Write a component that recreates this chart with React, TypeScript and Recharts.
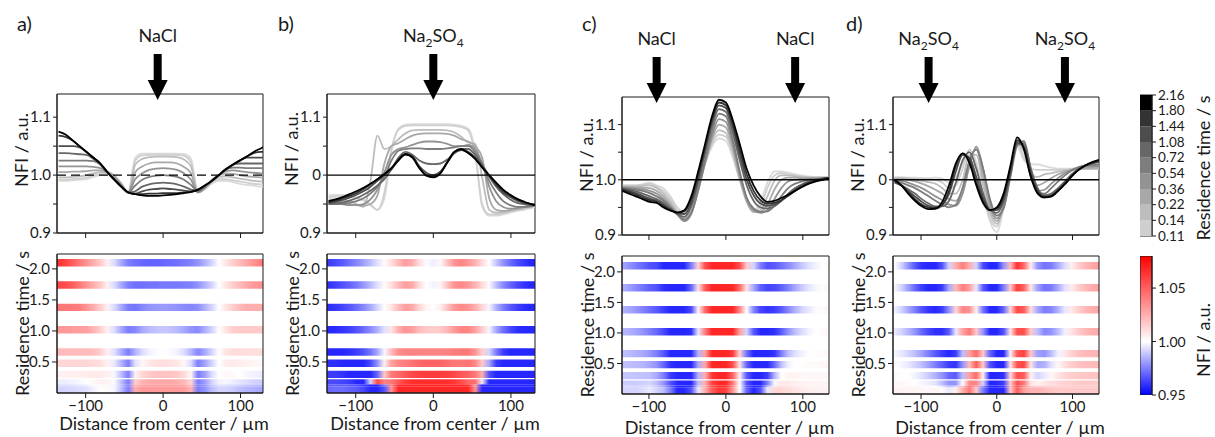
import React from "react";
import {
  LineChart,
  Line,
  XAxis,
  YAxis,
  ReferenceLine,
  ReferenceArea,
  ReferenceDot,
  ComposedChart,
  BarChart,
  Bar,
  Label,
} from "recharts";

// distance from channel center (µm), sampled every 9 µm
const DIST = [
  -135, -126, -117, -108, -99, -90, -81, -72, -63, -54, -45, -36, -27, -18, -9, 0,
  9, 18, 27, 36, 45, 54, 63, 72, 81, 90, 99, 108, 117, 126, 135,
];

// residence times (s), one profile per time in every panel
const TIMES = [0.11, 0.14, 0.22, 0.36, 0.54, 0.72, 1.08, 1.44, 1.8, 2.16];
const TIME_TICKS = ["0.11", "0.14", "0.22", "0.36", "0.54", "0.72", "1.08", "1.44", "1.80", "2.16"];
const GRAYS = ["#dadada", "#cfcfcf", "#bdbdbd", "#a8a8a8", "#939393", "#7d7d7d", "#676767", "#4d4d4d", "#333333", "#000000"];

const NFI_TICKS = [0.95, 1.0, 1.05];
const NFI_RANGE = [0.95, 1.08];
const NFI_STOPS = [1.08, 1.06, 1.04, 1.02, 1.0, 0.99, 0.975, 0.96, 0.95];

// a) NaCl at center
const PROFILE_A = [
  [0.99, 0.99, 0.991, 0.992, 0.993, 0.997, 1.0, 1.002, 0.998, 0.985, 0.97, 1.03, 1.037, 1.037, 1.037, 1.037, 1.037, 1.037, 1.036, 1.028, 0.97, 0.975, 0.985, 0.99, 0.99, 0.988, 0.985, 0.983, 0.982, 0.98, 0.98],
  [0.992, 0.992, 0.993, 0.994, 0.996, 0.999, 1.002, 1.003, 0.998, 0.985, 0.97, 1.025, 1.034, 1.035, 1.035, 1.035, 1.035, 1.035, 1.033, 1.022, 0.97, 0.976, 0.987, 0.993, 0.993, 0.991, 0.989, 0.987, 0.985, 0.984, 0.983],
  [0.996, 0.996, 0.997, 0.998, 1.0, 1.003, 1.005, 1.005, 0.999, 0.985, 0.97, 1.018, 1.028, 1.031, 1.032, 1.032, 1.032, 1.031, 1.027, 1.015, 0.97, 0.977, 0.99, 0.997, 0.998, 0.996, 0.994, 0.992, 0.99, 0.989, 0.988],
  [1.005, 1.005, 1.006, 1.006, 1.007, 1.008, 1.008, 1.005, 0.998, 0.985, 0.97, 1.005, 1.015, 1.02, 1.022, 1.022, 1.022, 1.02, 1.014, 1.003, 0.97, 0.978, 0.992, 1.0, 1.003, 1.002, 1.0, 0.998, 0.997, 0.996, 0.995],
  [1.015, 1.015, 1.015, 1.015, 1.015, 1.014, 1.012, 1.005, 0.995, 0.983, 0.97, 0.993, 1.003, 1.009, 1.011, 1.012, 1.011, 1.009, 1.003, 0.992, 0.97, 0.979, 0.99, 1.0, 1.007, 1.008, 1.007, 1.005, 1.004, 1.003, 1.003],
  [1.025, 1.025, 1.025, 1.025, 1.025, 1.024, 1.018, 1.005, 0.993, 0.981, 0.97, 0.982, 0.992, 0.997, 0.999, 1.0, 0.999, 0.997, 0.992, 0.983, 0.972, 0.98, 0.99, 1.0, 1.01, 1.013, 1.013, 1.012, 1.012, 1.012, 1.012],
  [1.038, 1.038, 1.037, 1.036, 1.035, 1.028, 1.018, 1.005, 0.992, 0.98, 0.97, 0.972, 0.98, 0.984, 0.986, 0.987, 0.986, 0.984, 0.98, 0.975, 0.973, 0.981, 0.99, 1.0, 1.01, 1.018, 1.02, 1.02, 1.02, 1.02, 1.02],
  [1.05, 1.05, 1.05, 1.048, 1.04, 1.03, 1.019, 1.005, 0.992, 0.98, 0.97, 0.968, 0.972, 0.975, 0.976, 0.977, 0.976, 0.975, 0.973, 0.972, 0.974, 0.982, 0.99, 1.0, 1.01, 1.018, 1.025, 1.03, 1.03, 1.03, 1.03],
  [1.068, 1.066, 1.06, 1.05, 1.04, 1.03, 1.02, 1.005, 0.992, 0.98, 0.97, 0.967, 0.967, 0.968, 0.968, 0.969, 0.969, 0.969, 0.97, 0.971, 0.975, 0.982, 0.99, 1.0, 1.01, 1.018, 1.025, 1.032, 1.038, 1.04, 1.04],
  [1.075, 1.07, 1.06, 1.05, 1.04, 1.03, 1.02, 1.005, 0.992, 0.98, 0.97, 0.967, 0.965, 0.964, 0.964, 0.965, 0.966, 0.967, 0.969, 0.971, 0.975, 0.982, 0.99, 1.0, 1.01, 1.018, 1.025, 1.032, 1.04, 1.046, 1.052],
];

// b) Na2SO4 at center
const PROFILE_B = [
  [0.965, 0.966, 0.966, 0.964, 0.962, 0.958, 0.95, 0.94, 0.96, 1.04, 1.08, 1.087, 1.088, 1.088, 1.088, 1.088, 1.088, 1.088, 1.087, 1.085, 1.08, 1.04, 0.945, 0.93, 0.93, 0.932, 0.935, 0.938, 0.94, 0.943, 0.945],
  [0.962, 0.963, 0.963, 0.962, 0.96, 0.956, 0.948, 0.94, 0.97, 1.045, 1.078, 1.085, 1.086, 1.086, 1.086, 1.086, 1.086, 1.086, 1.085, 1.083, 1.077, 1.035, 0.95, 0.932, 0.932, 0.934, 0.937, 0.94, 0.942, 0.944, 0.946],
  [0.958, 0.958, 0.957, 0.955, 0.95, 0.945, 0.99, 1.068, 1.045, 1.05, 1.062, 1.072, 1.077, 1.078, 1.078, 1.078, 1.078, 1.077, 1.074, 1.066, 1.056, 1.054, 0.995, 0.94, 0.935, 0.936, 0.938, 0.94, 0.943, 0.946, 0.948],
  [0.955, 0.955, 0.953, 0.95, 0.948, 0.947, 0.95, 0.965, 1.02, 1.05, 1.055, 1.062, 1.068, 1.071, 1.072, 1.072, 1.072, 1.071, 1.068, 1.062, 1.058, 1.05, 1.03, 0.96, 0.94, 0.938, 0.94, 0.942, 0.945, 0.948, 0.95],
  [0.952, 0.952, 0.95, 0.948, 0.948, 0.95, 0.958, 0.975, 1.005, 1.035, 1.045, 1.048, 1.052, 1.056, 1.058, 1.058, 1.057, 1.054, 1.05, 1.05, 1.052, 1.045, 1.02, 0.98, 0.955, 0.945, 0.942, 0.943, 0.945, 0.947, 0.95],
  [0.95, 0.95, 0.95, 0.952, 0.955, 0.96, 0.968, 0.98, 0.998, 1.025, 1.042, 1.045, 1.046, 1.046, 1.045, 1.045, 1.045, 1.046, 1.048, 1.05, 1.05, 1.04, 1.018, 0.99, 0.97, 0.955, 0.948, 0.945, 0.945, 0.946, 0.948],
  [0.95, 0.951, 0.953, 0.956, 0.96, 0.966, 0.973, 0.982, 0.993, 1.01, 1.03, 1.04, 1.035, 1.025, 1.02, 1.019, 1.02, 1.027, 1.038, 1.045, 1.045, 1.035, 1.018, 0.998, 0.98, 0.967, 0.958, 0.952, 0.95, 0.948, 0.948],
  [0.952, 0.954, 0.957, 0.961, 0.966, 0.972, 0.98, 0.99, 1.0, 1.01, 1.025, 1.036, 1.032, 1.015, 1.004, 1.0, 1.006, 1.022, 1.038, 1.043, 1.04, 1.03, 1.015, 0.998, 0.982, 0.97, 0.962, 0.956, 0.952, 0.95, 0.948],
  [0.953, 0.956, 0.96, 0.964, 0.969, 0.976, 0.984, 0.993, 1.002, 1.012, 1.026, 1.036, 1.032, 1.013, 1.0, 0.997, 1.004, 1.022, 1.04, 1.044, 1.038, 1.028, 1.014, 0.999, 0.985, 0.973, 0.965, 0.958, 0.953, 0.95, 0.948],
  [0.955, 0.958, 0.962, 0.967, 0.972, 0.978, 0.985, 0.993, 1.002, 1.012, 1.026, 1.036, 1.03, 1.012, 0.999, 0.996, 1.003, 1.022, 1.04, 1.045, 1.038, 1.028, 1.013, 1.0, 0.987, 0.975, 0.966, 0.959, 0.954, 0.95, 0.947],
];

// c) NaCl at both side inlets
const PROFILE_C = [
  [0.99, 0.99, 0.99, 0.992, 0.995, 0.99, 0.985, 0.97, 0.95, 0.94, 0.96, 0.995, 1.03, 1.06, 1.075, 1.07, 1.04, 1.0, 0.965, 0.945, 0.96, 0.995, 1.015, 1.015, 1.013, 1.01, 1.008, 1.006, 1.005, 1.005, 1.005],
  [0.99, 0.99, 0.99, 0.991, 0.993, 0.988, 0.98, 0.965, 0.948, 0.937, 0.952, 0.99, 1.03, 1.065, 1.082, 1.078, 1.045, 1.0, 0.962, 0.943, 0.952, 0.985, 1.008, 1.012, 1.01, 1.008, 1.006, 1.005, 1.005, 1.005, 1.005],
  [0.988, 0.988, 0.988, 0.989, 0.99, 0.985, 0.975, 0.96, 0.942, 0.93, 0.945, 0.985, 1.03, 1.07, 1.09, 1.085, 1.05, 1.0, 0.96, 0.942, 0.945, 0.97, 0.998, 1.008, 1.008, 1.006, 1.005, 1.004, 1.004, 1.004, 1.004],
  [0.987, 0.987, 0.986, 0.986, 0.985, 0.98, 0.97, 0.955, 0.938, 0.925, 0.94, 0.982, 1.03, 1.075, 1.1, 1.095, 1.058, 1.005, 0.962, 0.942, 0.942, 0.955, 0.982, 1.0, 1.004, 1.004, 1.003, 1.003, 1.003, 1.003, 1.003],
  [0.986, 0.985, 0.984, 0.983, 0.98, 0.975, 0.965, 0.952, 0.937, 0.925, 0.938, 0.98, 1.032, 1.08, 1.11, 1.105, 1.065, 1.01, 0.965, 0.945, 0.94, 0.945, 0.965, 0.985, 0.997, 1.0, 1.001, 1.002, 1.002, 1.003, 1.003],
  [0.985, 0.984, 0.982, 0.98, 0.976, 0.97, 0.962, 0.95, 0.937, 0.928, 0.94, 0.982, 1.035, 1.088, 1.12, 1.115, 1.072, 1.015, 0.968, 0.948, 0.942, 0.943, 0.953, 0.97, 0.985, 0.993, 0.997, 1.0, 1.001, 1.002, 1.003],
  [0.984, 0.982, 0.979, 0.975, 0.97, 0.965, 0.958, 0.948, 0.938, 0.933, 0.952, 0.995, 1.048, 1.098, 1.128, 1.123, 1.085, 1.035, 0.99, 0.962, 0.95, 0.948, 0.952, 0.962, 0.975, 0.985, 0.992, 0.997, 1.0, 1.002, 1.003],
  [0.983, 0.98, 0.976, 0.971, 0.966, 0.962, 0.955, 0.946, 0.939, 0.938, 0.958, 1.003, 1.055, 1.105, 1.135, 1.13, 1.095, 1.045, 1.0, 0.972, 0.957, 0.953, 0.955, 0.962, 0.972, 0.982, 0.99, 0.995, 0.999, 1.002, 1.004],
  [0.982, 0.978, 0.973, 0.968, 0.963, 0.96, 0.952, 0.945, 0.94, 0.943, 0.965, 1.01, 1.06, 1.11, 1.14, 1.135, 1.1, 1.055, 1.01, 0.98, 0.963, 0.957, 0.958, 0.963, 0.971, 0.98, 0.988, 0.994, 0.998, 1.001, 1.004],
  [0.98, 0.975, 0.97, 0.965, 0.96, 0.958, 0.95, 0.944, 0.941, 0.945, 0.97, 1.015, 1.065, 1.115, 1.145, 1.14, 1.108, 1.065, 1.02, 0.99, 0.97, 0.96, 0.962, 0.967, 0.973, 0.98, 0.987, 0.993, 0.997, 1.0, 1.003],
];

// d) Na2SO4 at both side inlets
const PROFILE_D = [
  [1.005, 1.005, 1.004, 1.004, 1.003, 1.003, 1.004, 1.002, 0.995, 1.005, 1.03, 1.05, 1.02, 0.97, 0.925, 0.905, 0.95, 1.02, 1.06, 1.035, 1.028, 1.028, 1.025, 1.022, 1.02, 1.02, 1.02, 1.02, 1.02, 1.02, 1.02],
  [1.003, 1.003, 1.003, 1.002, 1.002, 1.001, 1.0, 0.995, 0.985, 0.99, 1.02, 1.055, 1.03, 0.975, 0.93, 0.915, 0.955, 1.025, 1.065, 1.04, 1.02, 1.018, 1.018, 1.018, 1.018, 1.018, 1.02, 1.02, 1.02, 1.02, 1.02],
  [1.003, 1.003, 1.002, 1.0, 0.998, 0.996, 0.993, 0.985, 0.975, 0.975, 1.0, 1.045, 1.045, 0.99, 0.94, 0.92, 0.955, 1.02, 1.065, 1.05, 1.01, 1.005, 1.01, 1.012, 1.015, 1.017, 1.018, 1.02, 1.02, 1.02, 1.02],
  [1.002, 1.001, 1.0, 0.997, 0.993, 0.988, 0.982, 0.975, 0.965, 0.962, 0.985, 1.035, 1.055, 1.005, 0.95, 0.925, 0.952, 1.015, 1.065, 1.06, 1.005, 0.99, 0.995, 1.003, 1.01, 1.015, 1.018, 1.02, 1.021, 1.022, 1.022],
  [1.0, 0.998, 0.995, 0.99, 0.985, 0.978, 0.97, 0.963, 0.955, 0.953, 0.975, 1.025, 1.06, 1.02, 0.96, 0.93, 0.95, 1.01, 1.065, 1.068, 1.01, 0.98, 0.982, 0.993, 1.003, 1.012, 1.018, 1.022, 1.024, 1.025, 1.025],
  [0.998, 0.995, 0.99, 0.985, 0.978, 0.97, 0.962, 0.955, 0.95, 0.955, 0.985, 1.035, 1.055, 1.02, 0.965, 0.935, 0.948, 1.005, 1.062, 1.07, 1.02, 0.978, 0.975, 0.985, 0.997, 1.008, 1.017, 1.023, 1.026, 1.027, 1.028],
  [0.995, 0.99, 0.983, 0.975, 0.965, 0.957, 0.952, 0.952, 0.962, 0.995, 1.035, 1.05, 1.02, 0.975, 0.945, 0.94, 0.96, 1.01, 1.065, 1.065, 1.02, 0.985, 0.972, 0.975, 0.985, 0.997, 1.01, 1.02, 1.026, 1.03, 1.032],
  [0.997, 0.99, 0.98, 0.97, 0.96, 0.953, 0.95, 0.955, 0.975, 1.015, 1.045, 1.04, 1.005, 0.968, 0.945, 0.945, 0.965, 1.015, 1.068, 1.06, 1.012, 0.98, 0.97, 0.972, 0.982, 0.995, 1.008, 1.018, 1.026, 1.03, 1.033],
  [0.998, 0.99, 0.978, 0.965, 0.955, 0.95, 0.948, 0.955, 0.98, 1.025, 1.048, 1.035, 0.995, 0.962, 0.945, 0.948, 0.97, 1.02, 1.072, 1.058, 1.008, 0.978, 0.968, 0.97, 0.98, 0.993, 1.007, 1.018, 1.026, 1.031, 1.035],
  [1.0, 0.99, 0.975, 0.962, 0.952, 0.947, 0.948, 0.96, 0.99, 1.03, 1.048, 1.03, 0.99, 0.958, 0.945, 0.95, 0.975, 1.025, 1.077, 1.055, 1.005, 0.975, 0.968, 0.97, 0.98, 0.992, 1.006, 1.018, 1.026, 1.032, 1.036],
];

const FONT = "Lato, 'Open Sans', sans-serif";
const INK = "#1a1a1a";

// blue-white-red map; `soft` < 1 lightens the heat maps a bit
const nfiColor = (v: number, soft = 1) => {
  if (v >= 1) {
    const k = Math.min(1, (v - 1) / 0.08) * soft;
    const c = Math.round(255 * (1 - k));
    return `rgb(255,${c},${c})`;
  }
  const k = Math.min(1, (1 - v) / 0.05) * soft;
  const c = Math.round(255 * (1 - k));
  return `rgb(${c},${c},255)`;
};

const clamp01 = (v: number) => Math.max(0, Math.min(1, v));
const fmtDist = (v: number) => (v < 0 ? "\u2212" + Math.abs(v) : String(v));

const toRows = (profile: number[][]) =>
  DIST.map((x, j) => {
    const row: Record<string, number> = { x };
    profile.forEach((p, i) => (row["t" + i] = p[j]));
    return row;
  });

const saltText = (salt: string) =>
  salt === "NaCl" ? (
    "NaCl"
  ) : (
    <>
      <tspan>Na</tspan>
      <tspan fontSize={12} dy={5}>2</tspan>
      <tspan dy={-5}>SO</tspan>
      <tspan fontSize={12} dy={5}>4</tspan>
    </>
  );

const arrowShape = (salt: string) => (props: any) => {
  const { cx, cy } = props;
  return (
    <g>
      <text x={cx} y={cy - 52} textAnchor="middle" fontSize={18} fill={INK}>
        {saltText(salt)}
      </text>
      <rect x={cx - 4} y={cy - 40} width={8} height={27} fill="#000" />
      <polygon points={`${cx - 10},${cy - 14} ${cx + 10},${cy - 14} ${cx},${cy + 6}`} fill="#000" />
    </g>
  );
};

// rotated axis title; dx measured from the axis line, dy from plot top (null = centered)
const vTitle = (text: string, dx: number, dy: number | null, right = false) => (props: any) => {
  const vb = props.viewBox;
  const x = right ? vb.x + dx : vb.x + vb.width - dx;
  const y = dy == null ? vb.y + vb.height / 2 : vb.y + dy;
  return (
    <text x={x} y={y} transform={`rotate(-90 ${x} ${y})`} textAnchor="middle" dominantBaseline="central" fontSize={18} fill={INK}>
      {text}
    </text>
  );
};

const hTitle = (text: string, dy: number) => (props: any) => {
  const vb = props.viewBox;
  return (
    <text x={vb.x + vb.width / 2 + 4} y={vb.y + dy} textAnchor="middle" dominantBaseline="central" fontSize={18} fill={INK}>
      {text}
    </text>
  );
};

const PANELS = [
  { key: "a", letter: "a)", letterX: 17, left: 57, width: 206, lineTop: 94, heatTop: 254, plotH: 139, xDomain: [-137, 129], yMax: 1.14, heatMax: 2.24, zeroLabel: "1.0", dashed: true, arrows: [-7], salt: "NaCl", profile: PROFILE_A, nfiDy: 56, distDy: 30 },
  { key: "b", letter: "b)", letterX: 278, left: 327, width: 208, lineTop: 94, heatTop: 254, plotH: 139, xDomain: [-137, 131], yMax: 1.14, heatMax: 2.24, zeroLabel: "0", dashed: false, arrows: [0], salt: "Na2SO4", profile: PROFILE_B, nfiDy: 55, distDy: 30 },
  { key: "c", letter: "c)", letterX: 582, left: 622, width: 207, lineTop: 97, heatTop: 256, plotH: 138, xDomain: [-135, 134], yMax: 1.15, heatMax: 2.26, zeroLabel: "1.0", dashed: false, arrows: [-90, 90], salt: "NaCl", profile: PROFILE_C, nfiDy: 58, distDy: 33 },
  { key: "d", letter: "d)", letterX: 846, left: 893, width: 206, lineTop: 97, heatTop: 256, plotH: 138, xDomain: [-137, 135], yMax: 1.15, heatMax: 2.26, zeroLabel: "0", dashed: false, arrows: [-90, 90], salt: "Na2SO4", profile: PROFILE_D, nfiDy: 58, distDy: 33 },
];

type PanelCfg = (typeof PANELS)[number];

const Panel = ({ cfg }: { cfg: PanelCfg }) => {
  const rows = toRows(cfg.profile);
  const [d0, d1] = cfg.xDomain;
  const w = 60 + cfg.width + 8;
  const nfiLabel = (v: number) => {
    const k = Math.round(v * 100);
    if (k === 90) return "0.9";
    if (k === 100) return cfg.zeroLabel;
    if (k === 110) return "1.1";
    return "";
  };
  return (
    <>
      <div style={{ position: "absolute", left: cfg.letterX, top: 13, fontSize: 20, lineHeight: "20px", color: INK }}>
        {cfg.letter}
      </div>
      <div style={{ position: "absolute", left: cfg.left - 60, top: cfg.lineTop - 80 }}>
        <LineChart width={w} height={80 + cfg.plotH + 10} data={rows} margin={{ top: 80, right: 8, bottom: 0, left: 0 }}>
          <XAxis dataKey="x" type="number" domain={cfg.xDomain} allowDataOverflow ticks={[-100, 0, 100]} interval={0} tickFormatter={() => ""} height={10} tickSize={5} stroke={INK} />
          <YAxis type="number" domain={[0.9, cfg.yMax]} allowDataOverflow ticks={[0.9, 0.95, 1, 1.05, 1.1]} interval={0} tickFormatter={nfiLabel} width={60} tickSize={4} stroke={INK} tick={{ fontSize: 15, fill: INK }}>
            <Label content={vTitle("NFI / a.u.", 36, cfg.nfiDy)} />
          </YAxis>
          <ReferenceArea x1={d0} x2={d1} y1={0.9} y2={cfg.yMax} fill="none" stroke={INK} strokeWidth={1} />
          {cfg.profile.map((_, i) => (
            <Line key={i} type="monotone" dataKey={"t" + i} stroke={GRAYS[i]} strokeWidth={1.8} dot={false} isAnimationActive={false} />
          ))}
          <ReferenceLine y={1} stroke="#000" strokeWidth={1.4} strokeDasharray={cfg.dashed ? "9 5" : undefined} />
          {cfg.arrows.map((a) => (
            <ReferenceDot key={a} x={a} y={cfg.yMax} r={0} ifOverflow="visible" shape={arrowShape(cfg.salt)} />
          ))}
        </LineChart>
      </div>
      <div style={{ position: "absolute", left: cfg.left - 60, top: cfg.heatTop - 10 }}>
        <ComposedChart width={w} height={10 + cfg.plotH + 45} data={rows} margin={{ top: 10, right: 8, bottom: 0, left: 0 }}>
          <defs>
            {cfg.profile.map((p, i) => (
              <linearGradient key={i} id={`hm-${cfg.key}-${i}`} x1="0" y1="0" x2="1" y2="0">
                {DIST.map((x, j) => (
                  <stop key={j} offset={clamp01((x - d0) / (d1 - d0))} stopColor={nfiColor(p[j], 0.85)} />
                ))}
              </linearGradient>
            ))}
          </defs>
          <XAxis dataKey="x" type="number" domain={cfg.xDomain} allowDataOverflow ticks={[-100, 0, 100]} interval={0} tickFormatter={fmtDist} height={45} tickSize={5} stroke={INK} tick={{ fontSize: 15, fill: INK }}>
            <Label content={hTitle("Distance from center / \u00b5m", cfg.distDy)} />
          </XAxis>
          <YAxis type="number" domain={[0, cfg.heatMax]} allowDataOverflow ticks={[0.5, 1, 1.5, 2]} interval={0} tickFormatter={(v: number) => v.toFixed(1)} width={60} tickSize={5} stroke={INK} tick={{ fontSize: 15, fill: INK }}>
            <Label content={vTitle("Residence time / s", 35, null)} />
          </YAxis>
          {TIMES.map((t, i) => (
            <ReferenceArea
              key={i}
              x1={d0}
              x2={d1}
              y1={Math.max(i ? TIMES[i - 1] : 0, t - 0.12)}
              y2={t}
              fill={`url(#hm-${cfg.key}-${i})`}
              fillOpacity={1}
              stroke="none"
            />
          ))}
          <ReferenceArea x1={d0} x2={d1} y1={0} y2={cfg.heatMax} fill="none" stroke={INK} strokeWidth={1} />
        </ComposedChart>
      </div>
    </>
  );
};

const GRAY_SEGMENTS = TIME_TICKS.slice(1).map((_, i) => "s" + i);
const GRAY_BAR = [Object.fromEntries([["name", "cb"], ...GRAY_SEGMENTS.map((k) => [k, 1])])];
const NFI_BAR = [{ name: "nfi", span: NFI_RANGE }];

const App = () => (
  <div style={{ position: "absolute", left: 0, top: 0, width: 1215, height: 437, background: "#fff", fontFamily: FONT, color: INK }}>
    {PANELS.map((p) => (
      <Panel key={p.key} cfg={p} />
    ))}
    <div style={{ position: "absolute", left: 1140, top: 85 }}>
      <BarChart width={87} height={161} data={GRAY_BAR} margin={{ top: 10, right: 0, bottom: 10, left: 0 }} barCategoryGap={0}>
        <XAxis dataKey="name" hide />
        <YAxis orientation="right" type="number" domain={[0, 9]} allowDataOverflow ticks={[0, 1, 2, 3, 4, 5, 6, 7, 8, 9]} interval={0} tickFormatter={(v: number) => TIME_TICKS[v]} width={75} tickSize={4} stroke={INK} tick={{ fontSize: 13.5, fill: INK }}>
          <Label content={vTitle("Residence time / s", 51, 73, true)} />
        </YAxis>
        {GRAY_SEGMENTS.map((k, i) => (
          <Bar key={k} dataKey={k} stackId="cb" fill={GRAYS[i + 1]} isAnimationActive={false} />
        ))}
        <ReferenceArea y1={0} y2={9} fill="none" stroke={INK} strokeWidth={1} />
      </BarChart>
    </div>
    <div style={{ position: "absolute", left: 1140, top: 246 }}>
      <BarChart width={87} height={159} data={NFI_BAR} margin={{ top: 10, right: 0, bottom: 10, left: 0 }} barCategoryGap={0}>
        <defs>
          <linearGradient id="nfi-scale" x1="0" y1="0" x2="0" y2="1">
            {NFI_STOPS.map((v) => (
              <stop key={v} offset={(NFI_RANGE[1] - v) / (NFI_RANGE[1] - NFI_RANGE[0])} stopColor={nfiColor(v)} />
            ))}
          </linearGradient>
        </defs>
        <XAxis dataKey="name" hide />
        <YAxis orientation="right" type="number" domain={NFI_RANGE} allowDataOverflow ticks={NFI_TICKS} interval={0} tickFormatter={(v: number) => v.toFixed(2)} width={75} tickSize={4} stroke={INK} tick={{ fontSize: 14, fill: INK }}>
          <Label content={vTitle("NFI / a.u.", 51, 84, true)} />
        </YAxis>
        <Bar dataKey="span" fill="url(#nfi-scale)" stroke={INK} strokeWidth={1} isAnimationActive={false} />
      </BarChart>
    </div>
  </div>
);

export default App;
